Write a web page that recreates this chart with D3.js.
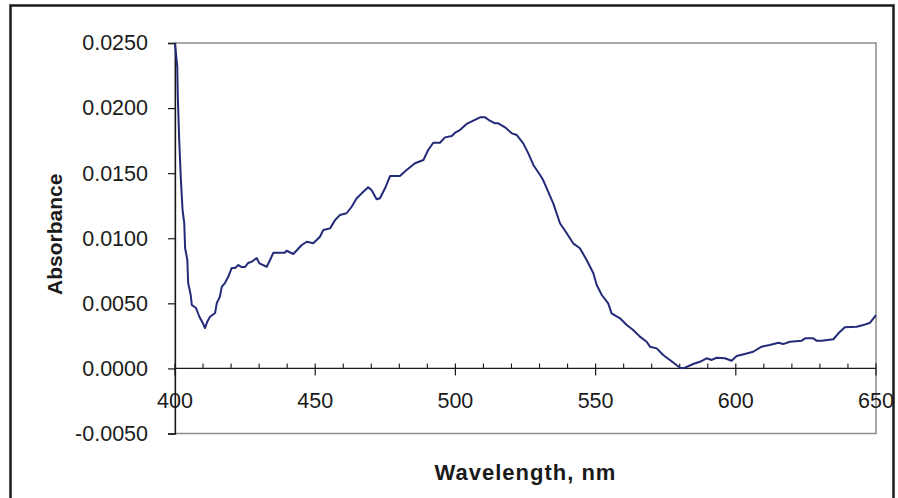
<!DOCTYPE html>
<html>
<head>
<meta charset="utf-8">
<script src="https://cdn.jsdelivr.net/npm/d3@7"></script>
<style>
  html, body { margin: 0; padding: 0; background: #fff; }
  svg { display: block; }
  text { font-family: "Liberation Sans", Arial, sans-serif; fill: #1a1a1a; }
</style>
</head>
<body>
<svg id="chart" width="898" height="498"></svg>
<script>
// Data
const wavelength = [400.0,400.8,401.0,401.5,402.1,402.7,403.3,403.6,404.4,404.7,405.6,406.0,407.5,408.7,409.9,410.7,411.5,412.5,414.3,414.9,416.0,416.7,417.8,419.0,420.2,421.4,422.6,423.8,425.0,426.1,427.4,429.1,430.1,432.7,433.9,435.1,439.2,439.8,442.2,445.2,447.0,449.3,451.7,452.9,455.3,457.1,458.8,461.2,463.0,464.8,466.6,468.9,470.1,471.9,473.1,474.9,476.7,480.2,482.6,485.6,488.6,490.3,492.1,494.5,496.3,498.7,499.9,501.6,504.0,506.4,508.8,510.6,512.3,514.1,515.3,517.7,520.1,521.9,524.2,526.0,527.8,530.2,531.3,533.1,534.9,537.3,539.7,542.0,544.4,546.8,549.2,550.4,552.2,554.5,555.7,558.7,561.1,563.4,565.8,568.2,569.4,571.8,574.1,576.5,580.1,581.5,584.8,587.2,589.6,591.4,593.2,596.1,598.5,600.3,603.2,606.2,609.2,612.1,615.2,616.9,619.3,623.5,624.7,627.6,628.8,630.6,634.8,636.6,638.9,643.1,645.5,647.9,650.0];
const absorbance = [0.02497,0.0232,0.0209,0.01755,0.01447,0.01217,0.01117,0.00925,0.00833,0.00656,0.00564,0.00487,0.00464,0.00397,0.00349,0.00310,0.00359,0.00397,0.00426,0.00502,0.00551,0.00628,0.00656,0.00704,0.00771,0.00771,0.00794,0.00779,0.00779,0.00810,0.00820,0.00848,0.00807,0.00781,0.00833,0.00889,0.00889,0.00904,0.00879,0.00948,0.00973,0.00961,0.01012,0.01063,0.01076,0.01140,0.01178,0.01192,0.01242,0.01307,0.01345,0.01391,0.01371,0.01299,0.01307,0.01384,0.01478,0.01478,0.01524,0.01576,0.01601,0.01678,0.01734,0.01734,0.01775,0.01785,0.01811,0.01831,0.01878,0.01903,0.01929,0.01929,0.01903,0.01883,0.01883,0.01852,0.01806,0.01793,0.01729,0.01652,0.01563,0.01486,0.01447,0.01357,0.01268,0.01115,0.01038,0.00961,0.00923,0.00833,0.00731,0.00641,0.00564,0.00500,0.00423,0.00385,0.00333,0.00295,0.00244,0.00205,0.00167,0.00154,0.00103,0.00065,0.00005,0.00002,0.00034,0.00051,0.00078,0.00065,0.00082,0.00078,0.00059,0.00095,0.00111,0.00128,0.00167,0.00180,0.00197,0.00187,0.00205,0.00213,0.00231,0.00231,0.00213,0.00213,0.00224,0.00270,0.00316,0.00320,0.00333,0.00351,0.00410];
const xTicks = [400, 450, 500, 550, 600, 650];
const xMinorTicks = d3.range(400, 651, 10);
const yTicks = [-0.005, 0.0, 0.005, 0.010, 0.015, 0.020, 0.025];
const xTitle = "Wavelength, nm";
const yTitle = "Absorbance";

const svg = d3.select("#chart");
const L = 175, R = 876, T = 43, B = 433.5;

const x = d3.scaleLinear().domain([400, 650]).range([L, R]);
const y = d3.scaleLinear().domain([-0.005, 0.025]).range([B, T]);

// outer frame
svg.append("rect")
  .attr("x", 10.5).attr("y", 5.5).attr("width", 883).attr("height", 520)
  .attr("fill", "none").attr("stroke", "#1a1a1a").attr("stroke-width", 2.5);

// plot area border (gray)
svg.append("rect")
  .attr("x", L).attr("y", T).attr("width", R - L).attr("height", B - T)
  .attr("fill", "none").attr("stroke", "#8c8c8c").attr("stroke-width", 1.5);

// Y axis
const yAxis = d3.axisLeft(y).tickValues(yTicks).tickSize(7).tickPadding(20)
  .tickFormat(d => d3.format(".4f")(d).replace("−", "-"));
const gy = svg.append("g").attr("transform", `translate(${L},0)`).call(yAxis);
gy.select(".domain").attr("stroke", "#1a1a1a").attr("stroke-width", 1.3);
gy.selectAll(".tick line").attr("stroke", "#1a1a1a").attr("stroke-width", 1.2);
gy.selectAll(".tick text").attr("font-size", 21.5).attr("font-family", "Liberation Sans, Arial, sans-serif").attr("fill", "#1a1a1a");

// X axis at zero
const y0 = y(0);
const gx = svg.append("g").attr("transform", `translate(0,${y0})`);
gx.append("line").attr("x1", L).attr("x2", R).attr("y1", 0).attr("y2", 0)
  .attr("stroke", "#1a1a1a").attr("stroke-width", 1.3);
gx.selectAll("line.minor").data(xMinorTicks.filter(d => d % 50 !== 0)).join("line")
  .attr("class", "minor")
  .attr("x1", d => x(d)).attr("x2", d => x(d)).attr("y1", -5).attr("y2", 0)
  .attr("stroke", "#1a1a1a").attr("stroke-width", 1.1);
gx.selectAll("line.major").data(xTicks).join("line")
  .attr("class", "major")
  .attr("x1", d => x(d)).attr("x2", d => x(d)).attr("y1", -5).attr("y2", 7)
  .attr("stroke", "#1a1a1a").attr("stroke-width", 1.2);
gx.selectAll("text").data(xTicks).join("text")
  .attr("x", d => x(d)).attr("y", 40)
  .attr("text-anchor", "middle").attr("font-size", 21.5)
  .text(d => d);

// line
const line = d3.line().x((d, i) => x(wavelength[i])).y(d => y(d));
svg.append("path").datum(absorbance)
  .attr("d", line).attr("fill", "none")
  .attr("stroke", "#232a78").attr("stroke-width", 2)
  .attr("stroke-linejoin", "round");

// titles
svg.append("text")
  .attr("x", (L + R) / 2).attr("y", 480)
  .attr("text-anchor", "middle").attr("font-size", 22).attr("font-weight", "bold")
  .attr("letter-spacing", 1)
  .text(xTitle);

svg.append("text")
  .attr("transform", `translate(62,${(T + B) / 2 - 4}) rotate(-90)`)
  .attr("text-anchor", "middle").attr("font-size", 21).attr("font-weight", "bold")
  .text(yTitle);
</script>
</body>
</html>
